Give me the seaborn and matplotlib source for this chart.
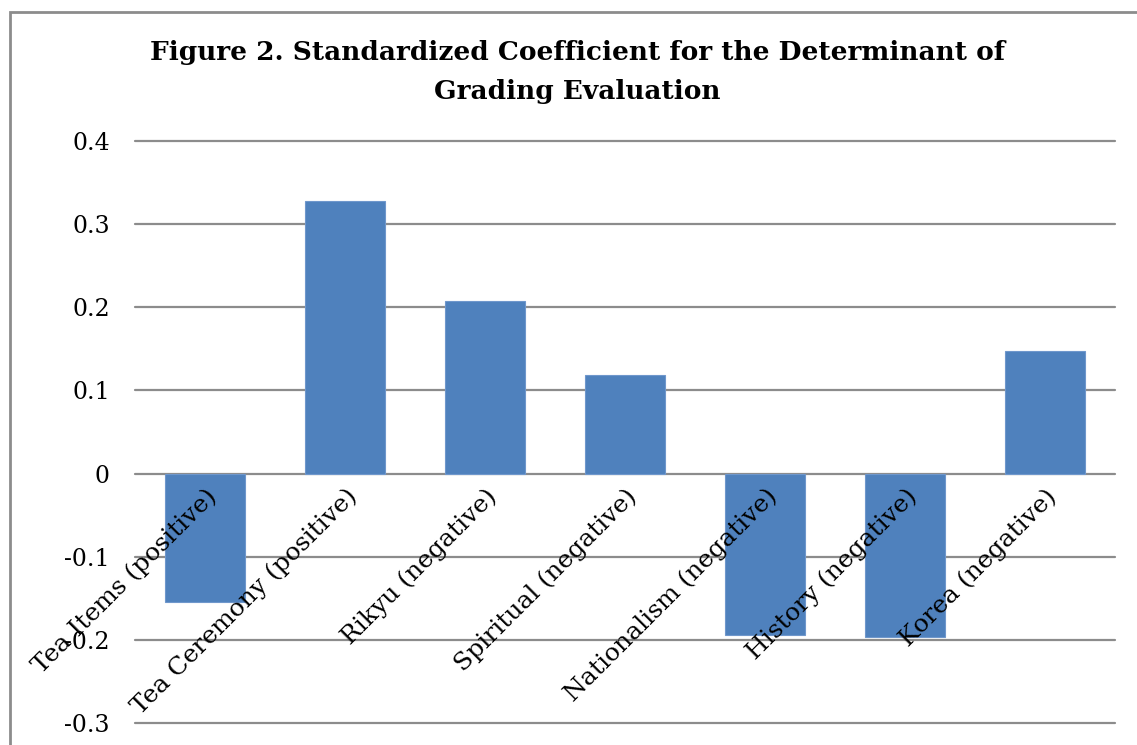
# Standardized coefficient bar chart (Excel-style look)
import pandas as pd
import seaborn as sb
import matplotlib.pyplot as plt
from matplotlib.patches import Rectangle

# Data
categories = ['Tea Items (positive)', 'Tea Ceremony (positive)', 'Rikyu (negative)',
              'Spiritual (negative)', 'Nationalism (negative)', 'History (negative)',
              'Korea (negative)']
coefficients = [-0.155, 0.328, 0.207, 0.119, -0.194, -0.197, 0.147]
y_ticks = [-0.3, -0.2, -0.1, 0, 0.1, 0.2, 0.3, 0.4]
y_tick_labels = ['-0.3', '-0.2', '-0.1', '0', '0.1', '0.2', '0.3', '0.4']

dataset = pd.DataFrame({'Determinant': categories, 'Coefficient': coefficients})

sb.set_style('white')
plt.rcParams['font.family'] = ['DejaVu Serif']
plt.rcParams['text.color'] = 'black'
plt.rcParams['xtick.color'] = 'black'
plt.rcParams['ytick.color'] = 'black'

fig = plt.figure(figsize=(11.37, 7.45), dpi=100)
ax = fig.add_axes([0.1187, 0.0295, 0.862, 0.7812])

# Gridlines first so bars sit on top
for t in y_ticks:
    ax.axhline(t, color='#8c8c8c', linewidth=1.6, zorder=0, clip_on=False)

sb.barplot(data=dataset, x='Determinant', y='Coefficient', color='#4f81bd',
           width=0.57, saturation=1, edgecolor='#6f97cc', linewidth=0.8, ax=ax)
for bar in ax.patches:
    bar.set_zorder(1)

ax.set_ylim(-0.3, 0.4)
ax.set_xlim(-0.5, len(categories) - 0.5)
ax.set_yticks(y_ticks)
ax.set_yticklabels(y_tick_labels, fontsize=17)
ax.set_xlabel('')
ax.set_ylabel('')

# Category labels hang from the zero line, drawn over the bars
ax.spines['bottom'].set_position(('data', 0))
for s in ['top', 'right', 'left', 'bottom']:
    ax.spines[s].set_visible(False)
ax.tick_params(axis='both', length=0)
ax.tick_params(axis='y', pad=18)
ax.set_xticks(range(len(categories)))
ax.set_xticklabels(categories, rotation=45, ha='right', rotation_mode='anchor',
                   fontsize=18)
ax.tick_params(axis='x', pad=8)
ax.xaxis.set_zorder(5)

# Title
fig.text(0.508, 0.93, 'Figure 2. Standardized Coefficient for the Determinant of',
         ha='center', va='center', fontsize=19, fontweight='bold')
fig.text(0.508, 0.877, 'Grading Evaluation',
         ha='center', va='center', fontsize=19, fontweight='bold')

# Chart area border (only top and left visible in the crop)
fig.patches.append(Rectangle((10 / 1137, -0.1), 1.2, 1.1 - 12 / 745,
                             transform=fig.transFigure, fill=False,
                             edgecolor='#8c8c8c', linewidth=2, zorder=0))

plt.savefig('out.png', dpi=100)
